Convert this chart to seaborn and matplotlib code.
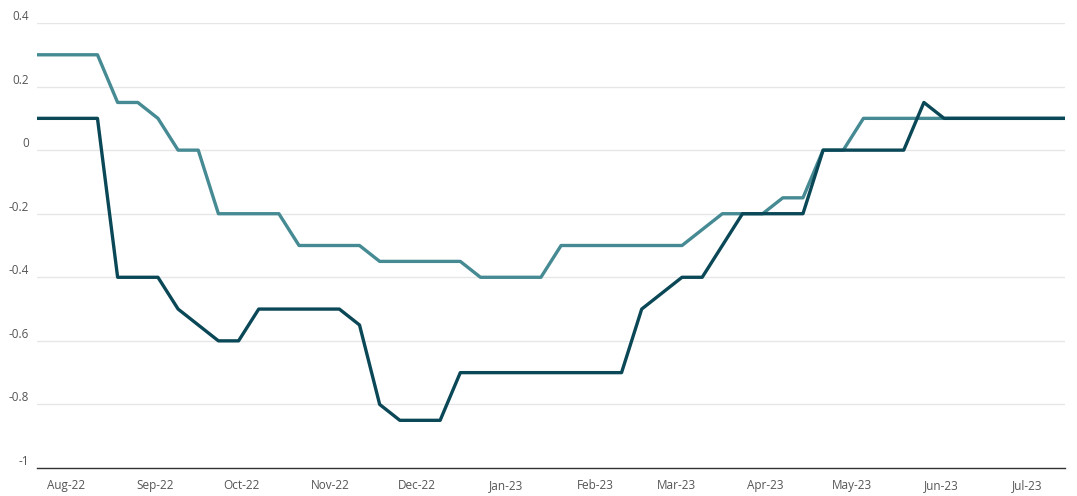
import numpy as np
import pandas as pd
import matplotlib
matplotlib.use("Agg")
import matplotlib.pyplot as plt
import matplotlib.dates as mdates
import seaborn as sns

# weekly observations
dates = pd.date_range("2022-07-22", periods=52, freq="7D")

series_light = [0.3, 0.3, 0.3, 0.3,
                0.15, 0.15,
                0.1,
                0.0, 0.0,
                -0.2, -0.2, -0.2, -0.2,
                -0.3, -0.3, -0.3, -0.3,
                -0.35, -0.35, -0.35, -0.35, -0.35,
                -0.4, -0.4, -0.4, -0.4,
                -0.3, -0.3, -0.3, -0.3, -0.3, -0.3, -0.3,
                -0.25,
                -0.2, -0.2, -0.2,
                -0.15, -0.15,
                0.0, 0.0,
                0.1, 0.1, 0.1, 0.1, 0.1, 0.1, 0.1, 0.1, 0.1, 0.1, 0.1]

series_dark = [0.1, 0.1, 0.1, 0.1,
               -0.4, -0.4, -0.4,
               -0.5,
               -0.55,
               -0.6, -0.6,
               -0.5, -0.5, -0.5, -0.5, -0.5,
               -0.55,
               -0.8,
               -0.85, -0.85, -0.85,
               -0.7, -0.7, -0.7, -0.7, -0.7, -0.7, -0.7, -0.7, -0.7,
               -0.5,
               -0.45,
               -0.4, -0.4,
               -0.3,
               -0.2, -0.2, -0.2, -0.2,
               0.0, 0.0, 0.0, 0.0, 0.0,
               0.15,
               0.1, 0.1, 0.1, 0.1, 0.1, 0.1, 0.1]

series_names = ["Series A", "Series B"]
colors = ["#468a93", "#0b4857"]
y_ticks = [-1, -0.8, -0.6, -0.4, -0.2, 0, 0.2, 0.4]
y_labels = ["-1", "-0.8", "-0.6", "-0.4", "-0.2", "0", "0.2", "0.4"]

df = pd.DataFrame({
    "date": list(dates) * 2,
    "value": series_light + series_dark,
    "series": [series_names[0]] * len(dates) + [series_names[1]] * len(dates),
})

sns.set_style("white")
plt.rcParams["font.family"] = ["Open Sans", "DejaVu Sans"]

W, H = 1077, 496
fig = plt.figure(figsize=(W / 100, H / 100), dpi=100)
ax = fig.add_axes([37 / W, (H - 468) / H, (1065 - 37) / W, (468 - 23) / H])

sns.lineplot(data=df, x="date", y="value", hue="series", palette=colors,
             linewidth=2.4, legend=False, ax=ax)

ax.set_xlim(dates[0], dates[-1])
ax.set_ylim(-1, 0.4)
ax.set_yticks(y_ticks)
ax.set_yticklabels(y_labels)
ax.grid(axis="y", color="#e6e6e6", linewidth=1)
ax.set_axisbelow(True)
ax.set_xlabel("")
ax.set_ylabel("")

ax.xaxis.set_major_locator(mdates.MonthLocator())
ax.xaxis.set_major_formatter(mdates.DateFormatter("%b-%y"))

for side in ["top", "right", "left"]:
    ax.spines[side].set_visible(False)
ax.spines["bottom"].set_color("#333333")
ax.spines["bottom"].set_linewidth(1)

ax.tick_params(axis="x", length=5, width=1, color="#666666", labelsize=8.5,
               labelcolor="#555555", pad=3)
ax.tick_params(axis="y", length=0, labelsize=8.5, labelcolor="#555555", pad=6)
for lbl in ax.get_yticklabels():
    lbl.set_verticalalignment("bottom")

fig.savefig("out.png", dpi=100)
